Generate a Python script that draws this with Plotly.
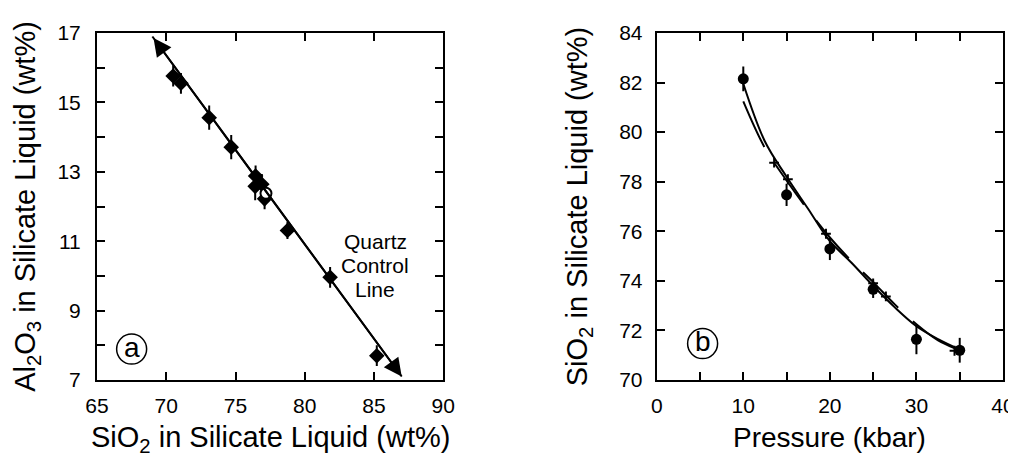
import plotly.graph_objects as go

# ---------- Panel (a) data ----------
sio2_a = [70.5, 71.06, 73.1, 74.69, 76.45, 76.42, 76.9, 77.1, 78.75, 81.83, 85.2]
al2o3_a = [15.76, 15.55, 14.56, 13.71, 12.88, 12.58, 12.64, 12.22, 11.31, 9.96, 7.7]
al2o3_err = [0.3, 0.3, 0.35, 0.35, 0.3, 0.4, 0.3, 0.3, 0.25, 0.3, 0.3]
sio2_err = [0.3, 0.3, 0.3, 0.3, 0.3, 0.3, 0.3, 0.3, 0.3, 0.3, 0.3]
open_sio2 = [77.2]
open_al2o3 = [12.38]
qcl_x = [69.0, 87.0]
qcl_y = [16.9, 7.1]
qcl_label = ["Quartz", "Control", "Line"]

# ---------- Panel (b) data ----------
p_b = [10, 15, 20, 25, 30, 35]
sio2_b = [82.15, 77.47, 75.29, 73.66, 71.64, 71.2]
sio2_b_err = [0.5, 0.45, 0.45, 0.35, 0.6, 0.5]
p_plus = [13.56, 15.15, 19.55, 25.0, 26.47, 34.4]
sio2_plus = [78.77, 78.1, 75.9, 73.9, 73.37, 71.18]
curve_p = [10, 12.5, 15, 17.5, 20, 22.5, 25, 27.5, 30, 32.5, 35]
curve_s = [81.95, 79.62, 78.2, 76.9, 75.6, 74.73, 73.8, 72.93, 72.17, 71.65, 71.23]
dash_p = [10, 12.5, 15, 17.5, 20, 22.5, 25, 27.5, 30, 32.5, 35]
dash_s = [81.24, 79.36, 78.05, 76.85, 75.75, 74.8, 73.95, 73.05, 72.25, 71.6, 71.2]

FONT = "Liberation Sans, Arial, Helvetica, sans-serif"

fig = go.Figure()

# Panel a points
fig.add_trace(go.Scatter(
    x=sio2_a, y=al2o3_a, mode="markers", xaxis="x", yaxis="y",
    marker=dict(symbol="diamond", size=12, color="black"),
    error_y=dict(type="data", array=al2o3_err, color="black", thickness=2, width=0),
    error_x=dict(type="data", array=sio2_err, color="black", thickness=2, width=0),
    showlegend=False))
fig.add_trace(go.Scatter(
    x=open_sio2, y=open_al2o3, mode="markers", xaxis="x", yaxis="y",
    marker=dict(symbol="circle", size=11, color="white", line=dict(color="black", width=2)),
    showlegend=False))
# quartz control line
fig.add_trace(go.Scatter(
    x=qcl_x, y=qcl_y, mode="lines", xaxis="x", yaxis="y",
    line=dict(color="black", width=2), showlegend=False))

# Panel b
fig.add_trace(go.Scatter(
    x=curve_p, y=curve_s, mode="lines", xaxis="x2", yaxis="y2",
    line=dict(color="black", width=2, shape="spline"), showlegend=False))
fig.add_trace(go.Scatter(
    x=dash_p, y=dash_s, mode="lines", xaxis="x2", yaxis="y2",
    line=dict(color="black", width=2, shape="spline", dash="50px,20px"), showlegend=False))
fig.add_trace(go.Scatter(
    x=p_b, y=sio2_b, mode="markers", xaxis="x2", yaxis="y2",
    marker=dict(symbol="circle", size=11, color="black"),
    error_y=dict(type="data", array=sio2_b_err, color="black", thickness=2, width=0),
    showlegend=False))
fig.add_trace(go.Scatter(
    x=p_plus, y=sio2_plus, mode="markers", xaxis="x2", yaxis="y2",
    marker=dict(symbol="cross-thin", size=7, color="black", line=dict(color="black", width=2)),
    showlegend=False))

ax_common = dict(
    showline=True, linewidth=2, linecolor="black", mirror="ticks",
    ticks="inside", ticklen=8, tickwidth=2, tickcolor="black",
    showgrid=False, zeroline=False, automargin=False,
    tickfont=dict(family=FONT, size=21, color="black"),
)
TFONT = dict(family=FONT, size=29, color="black")

fig.update_layout(
    width=1008, height=448,
    paper_bgcolor="white", plot_bgcolor="white",
    margin=dict(l=89, r=13, t=25, b=76),
    font=dict(family=FONT, color="black"),
    xaxis=dict(domain=[0, 0.3822], range=[65, 90], tick0=65, dtick=5,
               ticklabelstandoff=6, anchor="y", **ax_common),
    yaxis=dict(domain=[0, 1], range=[7, 17], tick0=7, dtick=2, ticklabelstandoff=10,
               minor=dict(dtick=1, ticks="inside", ticklen=8, tickwidth=2, tickcolor="black"),
               title=dict(text="Al<sub>2</sub>O<sub>3</sub> in Silicate Liquid (wt%)",
                          font=TFONT, standoff=13),
               anchor="x", **ax_common),
    xaxis2=dict(domain=[0.6178, 1], range=[0, 40], tick0=0, dtick=10, ticklabelstandoff=6,
                minor=dict(dtick=5, ticks="inside", ticklen=8, tickwidth=2, tickcolor="black"),
                anchor="y2", **ax_common),
    yaxis2=dict(domain=[0, 1], range=[70, 84], tick0=70, dtick=2, ticklabelstandoff=8,
                title=dict(text="SiO<sub>2</sub> in Silicate Liquid (wt%)",
                           font=TFONT, standoff=23),
                anchor="x2", **ax_common),
)

# x-axis titles (placed below tick labels)
fig.add_annotation(xref="x domain", yref="y domain", x=0.5, y=0, yanchor="middle",
                   yshift=-59, showarrow=False,
                   text="SiO<sub>2</sub> in Silicate Liquid (wt%)", font=TFONT)
fig.add_annotation(xref="x2 domain", yref="y2 domain", x=0.5, y=0, yanchor="middle",
                   yshift=-57, showarrow=False,
                   text="Pressure (kbar)", font=dict(family=FONT, size=28, color="black"))

# double-headed arrow heads on the quartz control line
fig.add_annotation(
    x=qcl_x[1], y=qcl_y[1], ax=qcl_x[0], ay=qcl_y[0],
    xref="x", yref="y", axref="x", ayref="y", text="",
    showarrow=True, arrowhead=2, arrowside="end+start", arrowsize=1.8,
    arrowwidth=2, arrowcolor="black", standoff=0, startstandoff=0)

for i, word in enumerate(qcl_label):
    fig.add_annotation(
        x=85.1, y=10.3, xref="x", yref="y", showarrow=False,
        text=word, yshift=24 * (1 - i),
        font=dict(family=FONT, size=21, color="black"))

# circled panel labels
for xr, yr, cx, cy, lab in [("x", "y", 67.5, 7.89, "a"), ("x2", "y2", 5.3, 71.47, "b")]:
    fig.add_shape(type="circle", xref=xr, yref=yr, xsizemode="pixel", ysizemode="pixel",
                  xanchor=cx, yanchor=cy, x0=-15, x1=15, y0=-15, y1=15,
                  line=dict(color="black", width=1.5))
    fig.add_annotation(x=cx, y=cy, xref=xr, yref=yr, text=lab, showarrow=False,
                       yshift=2, font=dict(family=FONT, size=28, color="black"))

fig.write_html("out.html")
